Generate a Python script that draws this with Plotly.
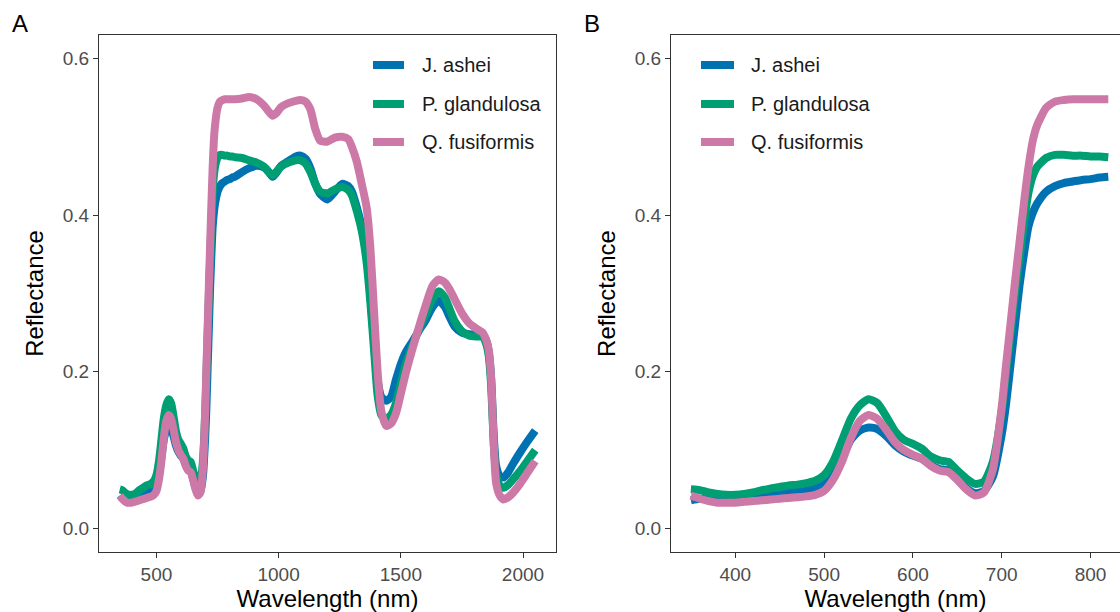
import plotly.graph_objects as go

# Mean canopy reflectance spectra for three woody species
wavelength = [350, 360, 370, 380, 390, 400, 410, 420, 430, 440, 450, 460, 470, 480, 490,
              500, 510, 520, 530, 540, 550, 560, 570, 580, 590, 600, 610, 620, 630, 640,
              650, 660, 670, 680, 690, 700, 705, 710, 715, 720, 725, 730, 735, 740, 750,
              760, 770, 780, 790, 800, 810, 820,
              850, 880, 910, 940, 960, 975, 990, 1010, 1040, 1070, 1090, 1110, 1130, 1150,
              1170, 1200, 1230, 1260, 1285, 1300, 1320, 1340, 1360, 1375, 1390, 1405, 1420,
              1440, 1460, 1480, 1500, 1520, 1550, 1575, 1600, 1630, 1655, 1680, 1700, 1720,
              1750, 1780, 1810, 1835, 1850, 1860, 1870, 1880, 1890, 1905, 1920, 1940, 1960,
              1990, 2020, 2050]

j_ashei = [0.036, 0.038, 0.037, 0.036, 0.037, 0.038, 0.039, 0.040, 0.042, 0.044, 0.045, 0.047, 0.048, 0.049, 0.051,
           0.056, 0.068, 0.090, 0.113, 0.125, 0.129, 0.127, 0.118, 0.106, 0.098, 0.093, 0.089, 0.081, 0.076, 0.074,
           0.064, 0.052, 0.045, 0.048, 0.066, 0.120, 0.160, 0.210, 0.260, 0.310, 0.350, 0.385, 0.403, 0.415, 0.430,
           0.437, 0.441, 0.443, 0.445, 0.446, 0.448, 0.449,
           0.455, 0.460, 0.463, 0.461, 0.455, 0.449, 0.454, 0.463, 0.469, 0.475, 0.476, 0.472, 0.460, 0.440,
           0.427, 0.420, 0.430, 0.440, 0.437, 0.430, 0.410, 0.385, 0.350, 0.300, 0.240, 0.190, 0.168,
           0.163, 0.168, 0.190, 0.210, 0.225, 0.240, 0.253, 0.265, 0.283, 0.291, 0.283, 0.270, 0.258,
           0.250, 0.248, 0.247, 0.247, 0.240, 0.225, 0.190, 0.120, 0.080, 0.067, 0.065, 0.072, 0.083,
           0.098, 0.112, 0.125]

p_glandulosa = [0.050, 0.049, 0.046, 0.044, 0.043, 0.043, 0.044, 0.046, 0.049, 0.051, 0.053, 0.055, 0.056, 0.058, 0.061,
                0.068, 0.085, 0.112, 0.140, 0.157, 0.165, 0.160, 0.143, 0.124, 0.113, 0.108, 0.102, 0.092, 0.087, 0.085,
                0.074, 0.064, 0.057, 0.060, 0.085, 0.150, 0.200, 0.250, 0.300, 0.345, 0.390, 0.428, 0.450, 0.462, 0.473,
                0.477, 0.477, 0.476, 0.476, 0.475, 0.475, 0.474,
                0.473, 0.470, 0.467, 0.462, 0.455, 0.451, 0.455, 0.462, 0.467, 0.470, 0.470, 0.466, 0.455, 0.440,
                0.430, 0.428, 0.433, 0.436, 0.432, 0.425, 0.405, 0.380, 0.340, 0.290, 0.230, 0.170, 0.145,
                0.140, 0.145, 0.160, 0.185, 0.210, 0.235, 0.255, 0.272, 0.293, 0.303, 0.295, 0.280, 0.265,
                0.252, 0.246, 0.245, 0.245, 0.235, 0.220, 0.180, 0.110, 0.070, 0.055, 0.052, 0.056, 0.063,
                0.074, 0.087, 0.100]

q_fusiformis = [0.042, 0.038, 0.035, 0.033, 0.033, 0.033, 0.034, 0.035, 0.036, 0.037, 0.038, 0.039, 0.040, 0.041, 0.043,
                0.048, 0.062, 0.085, 0.115, 0.137, 0.145, 0.140, 0.126, 0.110, 0.100, 0.094, 0.089, 0.080, 0.074, 0.072,
                0.062, 0.050, 0.042, 0.046, 0.075, 0.155, 0.210, 0.262, 0.315, 0.365, 0.415, 0.460, 0.495, 0.515, 0.537,
                0.545, 0.547, 0.548, 0.548, 0.548, 0.548, 0.548,
                0.549, 0.551, 0.548, 0.540, 0.532, 0.527, 0.530, 0.538, 0.543, 0.546, 0.547, 0.545, 0.535, 0.510,
                0.495, 0.494, 0.499, 0.500, 0.497, 0.487, 0.468, 0.440, 0.410, 0.360, 0.280, 0.200, 0.150,
                0.131, 0.134, 0.147, 0.172, 0.198, 0.232, 0.258, 0.283, 0.310, 0.318, 0.314, 0.305, 0.293,
                0.275, 0.262, 0.255, 0.250, 0.240, 0.228, 0.190, 0.110, 0.058, 0.042, 0.037, 0.040, 0.046,
                0.058, 0.072, 0.086]

species = ["J. ashei", "P. glandulosa", "Q. fusiformis"]
series = [j_ashei, p_glandulosa, q_fusiformis]
colors = ["#0072B2", "#009E73", "#CC79A7"]

x_ticks_full = [500, 1000, 1500, 2000]
x_ticks_vis = [400, 500, 600, 700, 800]
y_ticks = [0.0, 0.2, 0.4, 0.6]
vis_limit = 820

FONT = "Liberation Sans, Arial, Helvetica, sans-serif"
AXIS_COL = "#333333"
TICK_COL = "#4D4D4D"
W, H = 1120, 612

fig = go.Figure()

# Panel A: full spectrum
for name, vals, col in zip(species, series, colors):
    fig.add_trace(go.Scatter(
        x=wavelength, y=vals, mode="lines", name=name, showlegend=False,
        line=dict(color=col, width=8, shape="spline", smoothing=0.6),
        xaxis="x", yaxis="y",
    ))

# Panel B: visible to near-infrared region
vis_idx = [i for i, w in enumerate(wavelength) if w <= vis_limit]
for name, vals, col in zip(species, series, colors):
    fig.add_trace(go.Scatter(
        x=[wavelength[i] for i in vis_idx], y=[vals[i] for i in vis_idx],
        mode="lines", name=name, showlegend=False,
        line=dict(color=col, width=8, shape="spline", smoothing=0.6),
        xaxis="x2", yaxis="y2",
    ))

axis_common = dict(
    showgrid=False, zeroline=False, showline=True, linecolor=AXIS_COL, linewidth=1,
    ticks="outside", ticklen=5, tickwidth=1, tickcolor=AXIS_COL,
    tickfont=dict(family=FONT, size=19, color=TICK_COL),
    title_font=dict(family=FONT, size=24, color="#000000"),
)

y_bottom, y_top = 1 - 552 / H, 1 - 35 / H

# In-panel legends: a short coloured key followed by the species name
shapes, annotations = [], []
legend_rows = [65, 104, 142]
legend_boxes = [(373, 404, 420), (701, 734, 749)]
for key_x0, key_x1, text_x in legend_boxes:
    for name, col, row in zip(species, colors, legend_rows):
        shapes.append(dict(type="line", xref="paper", yref="paper",
                           x0=key_x0 / W, x1=key_x1 / W, y0=1 - row / H, y1=1 - row / H,
                           line=dict(color=col, width=8)))
        annotations.append(dict(text=name, x=text_x / W, y=1 - row / H, xref="paper", yref="paper",
                                xanchor="left", yanchor="middle", showarrow=False,
                                font=dict(family=FONT, size=20, color="#1A1A1A")))

for label, lx in (("A", 20), ("B", 592)):
    annotations.append(dict(text=label, x=lx / W, y=1 - 24 / H, xref="paper", yref="paper",
                            xanchor="center", yanchor="middle", showarrow=False,
                            font=dict(family=FONT, size=24, color="#000000")))

fig.update_layout(
    width=W, height=H,
    margin=dict(l=0, r=0, t=0, b=0),
    paper_bgcolor="white", plot_bgcolor="white",
    font=dict(family=FONT, color="#000000"),
    showlegend=False,
    xaxis=dict(axis_common, domain=[99 / W, 556 / W], range=[265, 2135],
               tickvals=x_ticks_full, mirror=True, anchor="y",
               title=dict(text="Wavelength (nm)", standoff=8)),
    yaxis=dict(axis_common, domain=[y_bottom, y_top], range=[-0.03, 0.63],
               tickvals=y_ticks, tickformat=".1f", mirror=True, anchor="x",
               title=dict(text="Reflectance", standoff=12)),
    xaxis2=dict(axis_common, domain=[671 / W, 1.0], range=[327.6, 833.2],
                tickvals=x_ticks_vis, mirror=True, anchor="y2",
                title=dict(text="Wavelength (nm)", standoff=8)),
    yaxis2=dict(axis_common, domain=[y_bottom, y_top], range=[-0.03, 0.63],
                tickvals=y_ticks, tickformat=".1f", anchor="x2",
                title=dict(text="Reflectance", standoff=12)),
    shapes=shapes,
    annotations=annotations,
)

fig.write_html("out.html")
